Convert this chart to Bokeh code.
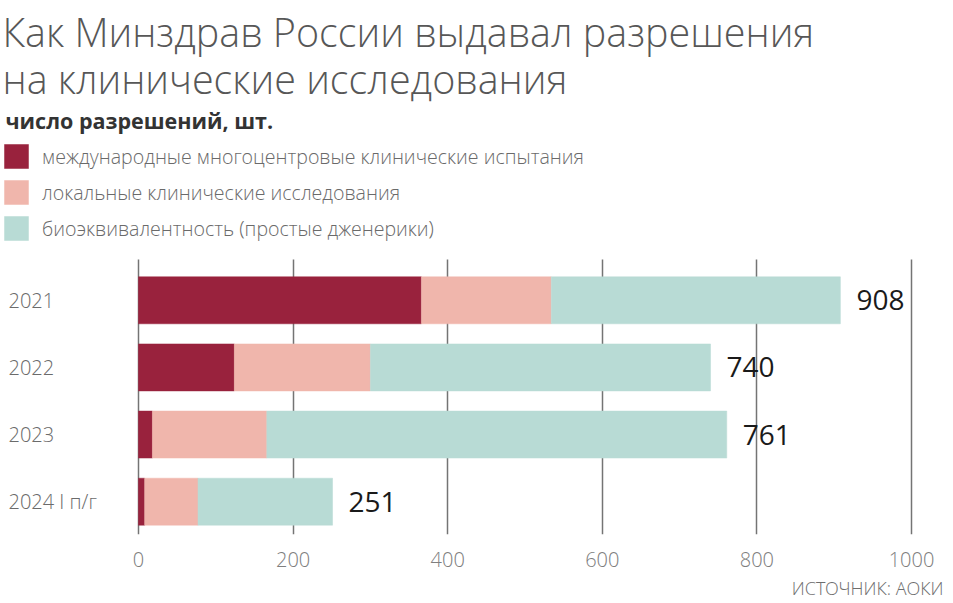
from bokeh.plotting import figure
from bokeh.models import (ColumnDataSource, Label, LabelSet, Range1d, Grid,
                          FixedTicker, Legend, LegendItem, Title)
from bokeh.core.properties import value
from bokeh.embed import file_html
from bokeh.resources import INLINE

# ---- data ----
years = ["2021", "2022", "2023", "2024 I п/г"]
intl = [366, 124, 18, 8]          # международные многоцентровые КИ
local = [168, 176, 148, 69]       # локальные КИ
bio = [374, 440, 595, 174]        # биоэквивалентность
totals = [908, 740, 761, 251]
x_ticks = [0, 200, 400, 600, 800, 1000]
series_names = ["международные многоцентровые клинические испытания",
                "локальные клинические исследования",
                "биоэквивалентность (простые дженерики)"]
colors = ["#99223D", "#F0B6AC", "#B8DBD5"]

title1 = "Как Минздрав России выдавал разрешения"
title2 = "на клинические исследования"
subtitle = "число разрешений, шт."
source_note = "ИСТОЧНИК: АОКИ"

LIGHT = "Open Sans Light"
REG = "Open Sans"

# ---- layout constants (pixels on the canvas) ----
W, H = 953, 603
BOTTOM = 66                 # space below the frame for the x axis and source line
FRAME_H = H - BOTTOM
ZERO_PX, THOUSAND_PX = 138, 911   # where 0 and 1000 fall horizontally
ROW_PX = 67.5                     # distance between bar rows
LAST_ROW_PX = 504                 # canvas y of the last row's centre
GRID_TOP_PX = 260                 # canvas y where gridlines start

px_per_unit = (THOUSAND_PX - ZERO_PX) / 1000.0
x_start = -ZERO_PX / px_per_unit
x_end = x_start + W / px_per_unit
y_start = -(FRAME_H - LAST_ROW_PX) / ROW_PX
y_end = y_start + FRAME_H / ROW_PX
grid_top = y_start + (FRAME_H - GRID_TOP_PX) / ROW_PX

n = len(years)
ypos = [n - 1 - i for i in range(n)]   # first year on top

p = figure(width=W, height=H, x_range=Range1d(x_start, x_end),
           y_range=Range1d(y_start, y_end),
           output_backend="svg", toolbar_location=None,
           min_border_left=0, min_border_right=0, min_border_top=0,
           min_border_bottom=BOTTOM)
p.outline_line_color = None
p.background_fill_color = "white"
p.border_fill_color = "white"

src = ColumnDataSource(dict(year=years, y=ypos, intl=intl, local=local, bio=bio,
                            total=totals))
rs = p.hbar_stack(["intl", "local", "bio"], y="y", height=0.70,
                  fill_color=colors, line_color=colors, line_width=0.5, source=src)

# axes / grid
p.yaxis.visible = False
p.ygrid.visible = False
xg = p.xgrid[0]
xg.ticker = FixedTicker(ticks=x_ticks)
xg.grid_line_color = "#747474"
xg.grid_line_width = 1.5
if "cross_bounds" in Grid.properties():
    xg.cross_bounds = (y_start, grid_top)
else:
    xg.visible = False
    p.segment(x0=x_ticks, x1=x_ticks, y0=[y_start] * len(x_ticks),
              y1=[grid_top] * len(x_ticks), line_color="#747474", line_width=1.5,
              level="underlay")

p.xaxis.ticker = FixedTicker(ticks=x_ticks)
p.xaxis.axis_line_color = None
p.xaxis.major_tick_line_color = None
p.xaxis.major_tick_out = 0
p.xaxis.major_tick_in = 0
p.xaxis.minor_tick_line_color = None
p.xaxis.major_label_standoff = 17
p.xaxis.major_label_text_font_size = "20px"
p.xaxis.major_label_text_color = "#7f7f7f"
p.xaxis.major_label_text_font = LIGHT

# source note below the axis
p.add_layout(Title(text=source_note, align="right", offset=10, standoff=8,
                   text_font_size="18px", text_font=LIGHT, text_color="#6e6e6e",
                   text_font_style="normal"), "below")

# category labels (left aligned at the page edge)
p.add_layout(LabelSet(x=8, y="y", text="year", x_units="canvas", source=src,
                      text_align="left", text_baseline="middle",
                      text_font_size="20px", text_color="#6b6b6b",
                      text_font=value(LIGHT)))

# totals
p.add_layout(LabelSet(x="total", y="y", text="total", source=src, x_offset=16,
                      text_align="left", text_baseline="middle",
                      text_font_size="28px", text_color="#1a1a1a",
                      text_font=value(REG)))

# legend
legend = Legend(items=[LegendItem(label=s, renderers=[r]) for s, r in zip(series_names, rs)],
                location=(1, FRAME_H - 144 - 102), orientation="vertical",
                glyph_width=30, glyph_height=30, spacing=6, label_standoff=11,
                padding=0, margin=0, border_line_color=None, background_fill_alpha=0,
                label_text_font_size="19.6px", label_text_color="#6a6a6a",
                label_text_font=LIGHT)
p.add_layout(legend)

# titles
p.add_layout(Label(x=2, y=31, x_units="canvas", y_units="canvas", text=title1,
                   text_baseline="middle", text_font_size="39.5px",
                   text_color="#575757", text_font=LIGHT))
p.add_layout(Label(x=2, y=78, x_units="canvas", y_units="canvas", text=title2,
                   text_baseline="middle", text_font_size="39.5px",
                   text_color="#575757", text_font=LIGHT))
p.add_layout(Label(x=5, y=119.5, x_units="canvas", y_units="canvas", text=subtitle,
                   text_baseline="middle", text_font_size="21.5px", text_font_style="bold",
                   text_color="#333333", text_font=REG))

open("out.html", "w").write(file_html(p, INLINE))
